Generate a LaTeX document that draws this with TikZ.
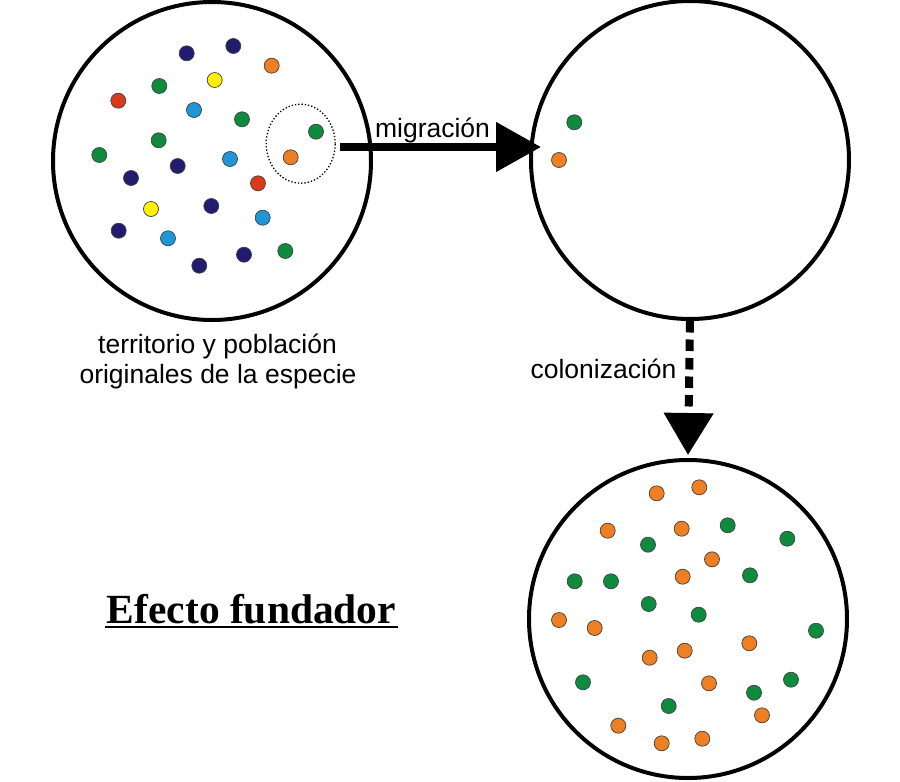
\documentclass[tikz,border=0pt]{standalone}
\usepackage{fontspec}
\setmainfont{Liberation Sans}
\newfontfamily\titlefont{Liberation Serif}
\usetikzlibrary{arrows.meta,positioning,shapes.geometric}
\definecolor{dotnavy}{HTML}{221C6E}
\definecolor{dotorange}{HTML}{EE7F22}
\definecolor{dotyellow}{HTML}{FFF100}
\definecolor{dotgreen}{HTML}{0E8B3E}
\definecolor{dotblue}{HTML}{1E96D8}
\definecolor{dotred}{HTML}{D93A1C}

\begin{document}
\begin{tikzpicture}[x=1pt,y=-1pt, every node/.style={font=\fontsize{26.5}{30}\selectfont,inner sep=0pt},
 region/.style={draw,circle,line width=4pt,minimum size=318pt},
 grupo/.style={draw,ellipse,line width=1.3pt,dash pattern=on 1.3pt off 2pt,minimum width=69pt,minimum height=79pt},
 dot/.style={draw=black!75,line width=0.7pt},
 arr/.style={-{Triangle[length=45pt,width=48pt]},line width=8pt},
 darr/.style={-{Triangle[length=42pt,width=48pt]},line width=8pt,dash pattern=on 11.5pt off 7pt},
 titulo/.style={font=\titlefont\bfseries\fontsize{41.5}{48}\selectfont}]
\fill[white] (0,0) rectangle (900,782);
\useasboundingbox (0,0) rectangle (900,782);
% the three territories
\node[region] (orig) at (212,161) {};
\node[region] (dest) at (690,160) {};
\node[region] (found) at (688,619) {};
\node[grupo] (emig) at (300.7,143.7) {};
% original population
\foreach \px/\py/\col in {186.7/53.3/dotnavy, 233.3/46/dotnavy, 271.7/65.7/dotorange,
  214.7/80/dotyellow, 159.3/86/dotgreen, 118.3/100.7/dotred, 194/110/dotblue,
  242/119.3/dotgreen, 316/131.7/dotgreen, 158.7/140.3/dotgreen, 99.3/155/dotgreen,
  290.7/157.3/dotorange, 230/159/dotblue, 177.7/166/dotnavy, 131/178/dotnavy,
  258/183.3/dotred, 151/209/dotyellow, 211.3/206/dotnavy, 262.7/217.7/dotblue,
  118.7/230.7/dotnavy, 168/238.3/dotblue, 285.3/251/dotgreen, 244/254.7/dotnavy,
  199.3/265.7/dotnavy}
  \filldraw[dot,fill=\col] (\px,\py) circle[radius=7.5pt];
% migrants
\foreach \px/\py/\col in {574.3/122.3/dotgreen, 559/160/dotorange}
  \filldraw[dot,fill=\col] (\px,\py) circle[radius=7.5pt];
% founded population
\foreach \px/\py/\col in {656.7/493.3/dotorange, 699.3/487.3/dotorange, 607.7/530.7/dotorange,
  681.7/528.7/dotorange, 727.7/525.3/dotgreen, 787.3/538.7/dotgreen, 648/544.7/dotgreen,
  712/559.3/dotorange, 574.7/581.3/dotgreen, 611/581.3/dotgreen, 682.7/576.7/dotorange,
  750/575.3/dotgreen, 648.7/604/dotgreen, 698.7/614.7/dotgreen, 559/620/dotorange,
  594.7/628/dotorange, 816/630.7/dotgreen, 749.3/643.3/dotorange, 684.7/650.7/dotorange,
  649.7/657.7/dotorange, 583/682.3/dotgreen, 709/683.3/dotorange, 791/679.7/dotgreen,
  754/692.7/dotgreen, 668.7/706/dotgreen, 762/715.3/dotorange, 618.3/725.7/dotorange,
  661.7/743.3/dotorange, 702.3/738.7/dotorange}
  \filldraw[dot,fill=\col] (\px,\py) circle[radius=7.5pt];
% arrows
\coordinate (migstart) at ([xshift=4pt,yshift=-3.3pt]emig.east);
\coordinate (migend) at ([xshift=12pt]dest.west);
\draw[arr] (migstart) -- (migstart -| migend);
\draw[darr] (dest.south) -- ([yshift=3pt]found.north);
% labels
\node[anchor=base] (mig) at (432.5,137.3) {migración};
\node[anchor=base] (colon) at (603.5,378.3) {colonización};
\node[anchor=base] (terr1) at (217.5,353.3) {territorio y población};
\node[anchor=base] (terr2) at (218,383.3) {originales de la especie};
\node[titulo,anchor=base] (efecto) at (251.5,623.3) {Efecto fundador};
\draw[line width=2pt] ([xshift=-2pt,yshift=-3.5pt]efecto.base west) -- ([xshift=2pt,yshift=-3.5pt]efecto.base east);
\end{tikzpicture}
\end{document}
